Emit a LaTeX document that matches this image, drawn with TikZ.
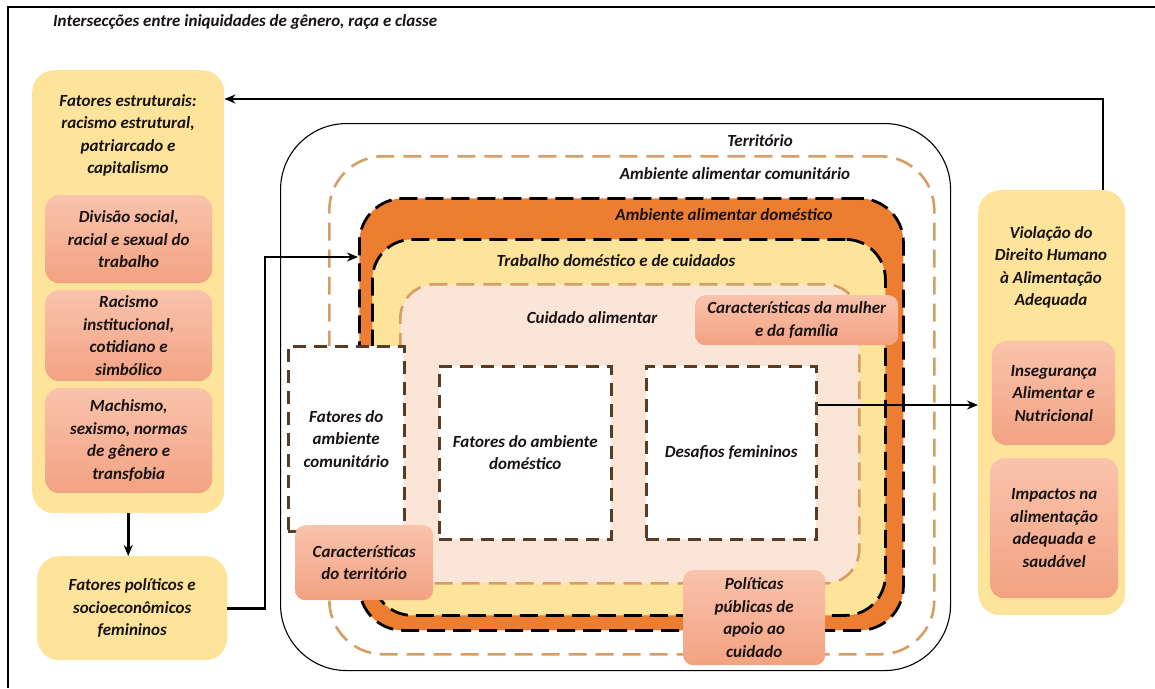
\documentclass[tikz,border=0pt]{standalone}
\usepackage{fontspec}
\setmainfont{Carlito}
\usetikzlibrary{arrows.meta}
\definecolor{yel}{RGB}{253,228,154}
\definecolor{pinkT}{RGB}{249,195,172}
\definecolor{pinkB}{RGB}{242,162,130}
\definecolor{orng}{RGB}{237,125,49}
\definecolor{peach}{RGB}{251,229,214}
\definecolor{tanc}{RGB}{214,158,100}
\definecolor{brn}{RGB}{88,60,38}
\definecolor{txt}{RGB}{24,18,18}
\tikzset{
 lbl/.style={font=\fontsize{17}{22.5}\selectfont\bfseries\itshape, text=txt, align=center, inner sep=0pt},
 ybox/.style={fill=yel, rounded corners=22pt, anchor=north west, inner sep=0pt, draw=none},
 pbox/.style={lbl, top color=pinkT, bottom color=pinkB, rounded corners=14pt, anchor=north west, draw=none},
 pboxs/.style={pbox, rounded corners=10pt},
 wbox/.style={lbl, fill=white, draw=brn, line width=2.5pt, dash pattern=on 13pt off 8pt, anchor=north west},
 region/.style={anchor=north west, inner sep=0pt},
 tandash/.style={draw=tanc, line width=2.6pt, dash pattern=on 18pt off 9pt},
 blkdash/.style={draw=black, line width=2.8pt, dash pattern=on 18pt off 8pt},
 conn/.style={line width=2.6pt, -{Stealth[length=11pt,width=9pt]}},
}
\begin{document}
\begin{tikzpicture}[x=1pt,y=-1pt]
\useasboundingbox (0,0) rectangle (1155,688);
% frame
\draw[line width=1.2pt] (1155,7) -- (8,7) -- (8,688);
\node[lbl, anchor=base west] (title) at (53,27) {Intersecções entre iniquidades de gênero, raça e classe};

% left column
\node[ybox, minimum width=192pt, minimum height=443pt] (estr) at (32,70) {};
\node[lbl] (estrT) at (128,135.5) {Fatores estruturais:\\racismo estrutural,\\patriarcado e\\capitalismo};
\node[pbox, minimum width=167pt, minimum height=88pt] (div) at (45,195) {Divisão social,\\racial e sexual do\\trabalho};
\node[pbox, minimum width=167pt, minimum height=91pt] (rac) at (45,290) {Racismo\\institucional,\\cotidiano e\\simbólico};
\node[pbox, minimum width=167pt, minimum height=105pt] (mach) at (45,388) {Machismo,\\sexismo, normas\\de gênero e\\transfobia};
\node[ybox, lbl, minimum width=190pt, minimum height=104pt] (pol) at (37,556) {Fatores políticos e\\socioeconômicos\\femininos};

% right column
\node[ybox, minimum width=147pt, minimum height=425pt] (viol) at (978,190) {};
\node[lbl] (violT) at (1051,267.5) {Violação do\\Direito Humano\\à Alimentação\\Adequada};
\node[pbox, minimum width=123pt, minimum height=104pt] (inseg) at (992,341) {Insegurança\\Alimentar e\\Nutricional};
\node[pbox, minimum width=128pt, minimum height=140pt] (impac) at (990,458) {Impactos na\\alimentação\\adequada e\\saudável};

% center nested regions
\node[region, draw=black, line width=1.1pt, rounded corners=66pt, minimum width=670pt, minimum height=547pt] (terr) at (280,123) {};
\node[lbl] (terrT) at (760,141) {Território};
\node[region, tandash, rounded corners=54pt, minimum width=605pt, minimum height=498pt] (comu) at (328,155) {};
\node[lbl] (comuT) at (735,174) {Ambiente alimentar comunitário};
\node[region, fill=orng, blkdash, rounded corners=44pt, minimum width=544pt, minimum height=432pt] (ambdom) at (358,197) {};
\node[lbl] (ambdomT) at (724,215) {Ambiente alimentar doméstico};
\node[region, fill=yel, blkdash, rounded corners=40pt, minimum width=513pt, minimum height=376pt] (trab) at (371,238) {};
\node[lbl] (trabT) at (616,261) {Trabalho doméstico e de cuidados};
\node[region, fill=peach, tandash, rounded corners=34pt, minimum width=459pt, minimum height=299pt] (cuid) at (399,283) {};
\node[lbl] (cuidT) at (592,318) {Cuidado alimentar};

% inner boxes
\node[wbox, minimum width=116pt, minimum height=185pt] (fac) at (287,345) {Fatores do\\ambiente\\comunitário};
\node[wbox, minimum width=172pt, minimum height=173pt] (fdom) at (438,365) {Fatores do ambiente\\doméstico};
\node[wbox, minimum width=170pt, minimum height=173pt] (desaf) at (645,365) {Desafios femininos};
\node[pboxs, minimum width=138pt, minimum height=75pt] (ct) at (295,525) {Características\\do território};
\node[pboxs, minimum width=203pt, minimum height=50pt] (cm) at (695,295) {Características da mulher\\e da família};
\node[pboxs, minimum width=142pt, minimum height=95pt] (pp) at (683,570) {Políticas\\públicas de\\apoio ao\\cuidado};

% connectors
\draw[conn] (estr.south) -- (estr.south |- pol.north);
\coordinate (bend) at (265,257);
\draw[conn] (pol.east) -| (bend) -- (bend -| ambdom.west);
\coordinate (dsy) at (0,405);
\draw[conn] (desaf.east |- dsy) -- (viol.west |- dsy);
\coordinate (fb) at (1103,99);
\draw[conn] (viol.north -| fb) -- (fb) -- (fb -| estr.east);
\end{tikzpicture}
\end{document}
